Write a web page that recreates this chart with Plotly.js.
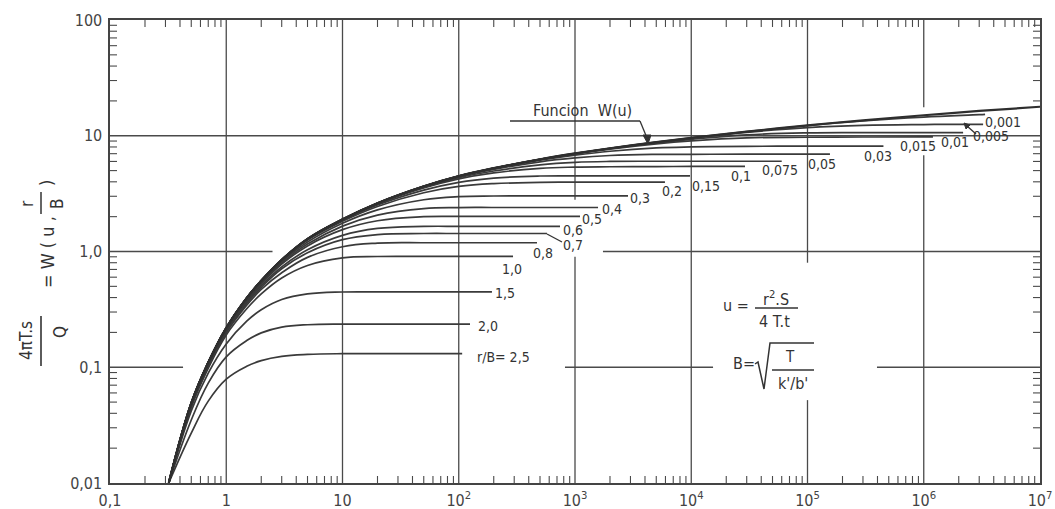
<!DOCTYPE html>
<html><head><meta charset="utf-8">
<script src="https://cdn.plot.ly/plotly-3.0.1.min.js"></script>
<style>html,body{margin:0;padding:0;background:#fff}</style>
</head><body>
<div id="chart" style="width:1055px;height:509px"></div>
<script>
// ---- data: x = 1/u, y = W(u, r/B) ----
const X = [0.32, 0.5, 0.7, 1, 1.5, 2, 3, 5, 10, 20, 50, 100, 200, 500, 1e3, 2e3, 5e3, 1e4, 3e4, 1e5, 3e5, 1e6, 3e6, 1e7];
const W_u = [0.01, 0.049, 0.11, 0.219, 0.397, 0.56, 0.848, 1.284, 1.896, 2.616, 3.657, 4.482, 5.246, 6.26, 7.03, 7.80, 8.81, 9.58, 10.85, 12.3, 13.6, 15.03, 16.38, 17.8];

const rB_labels = ['2,5','2,0','1,5','1,0','0,8','0,7','0,6','0,5','0,4','0,3','0,2','0,15','0,1','0,075','0,05','0,03','0,015','0,01','0,005','0,001'];
const curveEnd = [107, 125, 193, 293, 471, 574, 743, 1104, 1578, 2857, 5940, 9750, 2.9e4, 6.0e4, 1.56e5, 4.5e5, 1.2e6, 2.18e6, 3.24e6, 3.37e6];

const W_rB_2_5   = [0.01, 0.027, 0.051, 0.079, 0.102, 0.114, 0.124, 0.129, 0.131, 0.131, 0.131, 0.131, 0.131];
const W_rB_2_0   = [0.01, 0.035, 0.073, 0.123, 0.17, 0.198, 0.222, 0.233, 0.236, 0.236, 0.236, 0.236, 0.236];
const W_rB_1_5   = [0.01, 0.042, 0.089, 0.159, 0.25, 0.314, 0.385, 0.43, 0.447, 0.448, 0.448, 0.448, 0.448];
const W_rB_1_0   = [0.01, 0.045, 0.098, 0.19, 0.32, 0.43, 0.59, 0.757, 0.88, 0.905, 0.906, 0.906, 0.906, 0.906];
const W_rB_0_8   = [0.01, 0.046, 0.10, 0.198, 0.343, 0.47, 0.655, 0.89, 1.10, 1.18, 1.19, 1.19, 1.19, 1.19];
const W_rB_0_7   = [0.01, 0.047, 0.103, 0.202, 0.355, 0.49, 0.71, 0.975, 1.265, 1.40, 1.43, 1.43, 1.43, 1.43, 1.43];
const W_rB_0_6   = [0.01, 0.047, 0.105, 0.206, 0.365, 0.506, 0.736, 1.034, 1.377, 1.582, 1.648, 1.65, 1.65, 1.65, 1.65];
const W_rB_0_5   = [0.01, 0.048, 0.107, 0.21, 0.374, 0.521, 0.777, 1.118, 1.544, 1.844, 1.998, 2.01, 2.01, 2.01, 2.01, 2.01];
const W_rB_0_4   = [0.01, 0.048, 0.108, 0.214, 0.382, 0.535, 0.796, 1.159, 1.657, 2.063, 2.349, 2.396, 2.40, 2.40, 2.40, 2.40];
const W_rB_0_3   = [0.01, 0.0485, 0.109, 0.216, 0.389, 0.545, 0.817, 1.206, 1.753, 2.287, 2.801, 2.981, 3.017, 3.02, 3.02, 3.02, 3.02];
const W_rB_0_2   = [0.01, 0.049, 0.11, 0.218, 0.395, 0.553, 0.834, 1.254, 1.823, 2.45, 3.218, 3.648, 3.86, 3.95, 3.98, 3.98, 3.98, 3.98];
const W_rB_0_15  = [0.01, 0.049, 0.11, 0.219, 0.396, 0.556, 0.84, 1.267, 1.854, 2.521, 3.392, 3.962, 4.31, 4.489, 4.507, 4.51, 4.51, 4.51];
const W_rB_0_1   = [0.01, 0.049, 0.11, 0.219, 0.397, 0.558, 0.845, 1.276, 1.877, 2.573, 3.537, 4.235, 4.77, 5.225, 5.36, 5.40, 5.42, 5.43, 5.43];
const W_rB_0_075 = [0.01, 0.049, 0.11, 0.219, 0.397, 0.559, 0.846, 1.28, 1.885, 2.59, 3.588, 4.339, 4.958, 5.606, 5.891, 6.0, 6.02, 6.02, 6.02, 6.02];
const W_rB_0_05  = [0.01, 0.049, 0.11, 0.219, 0.397, 0.56, 0.847, 1.282, 1.89, 2.60, 3.625, 4.419, 5.116, 5.955, 6.434, 6.751, 6.902, 6.913, 6.93, 6.93, 6.93];
const W_rB_0_03  = [0.01, 0.049, 0.11, 0.219, 0.397, 0.56, 0.848, 1.283, 1.894, 2.61, 3.65, 4.458, 5.197, 6.139, 6.791, 7.35, 7.846, 8.005, 8.10, 8.13, 8.13, 8.13];
const W_rB_0_015 = [0.01, 0.049, 0.11, 0.219, 0.397, 0.56, 0.848, 1.284, 1.896, 2.614, 3.653, 4.476, 5.236, 6.25, 6.966, 7.676, 8.518, 9.034, 9.583, 9.71, 9.754, 9.77, 9.77];
const W_rB_0_01  = [0.01, 0.049, 0.11, 0.219, 0.397, 0.56, 0.848, 1.284, 1.896, 2.615, 3.655, 4.479, 5.24, 6.25, 7.0, 7.741, 8.678, 9.322, 10.194, 10.595, 10.65, 10.66, 10.66];
const W_rB_0_005 = [0.01, 0.049, 0.11, 0.219, 0.397, 0.56, 0.848, 1.284, 1.896, 2.616, 3.657, 4.481, 5.245, 6.258, 7.026, 7.79, 8.78, 9.514, 10.70, 11.75, 12.3, 12.5, 12.55, 12.55];
const W_rB_0_001 = [0.01, 0.049, 0.11, 0.219, 0.397, 0.56, 0.848, 1.284, 1.896, 2.616, 3.657, 4.482, 5.246, 6.26, 7.03, 7.80, 8.81, 9.58, 10.84, 12.25, 13.45, 14.5, 15.2, 15.3];

const X_TICKS = [0.1, 1, 10, 100, 1e3, 1e4, 1e5, 1e6, 1e7];
const X_TICKTEXT = ['0,1', '1', '10', '10<sup>2</sup>', '10<sup>3</sup>', '10<sup>4</sup>', '10<sup>5</sup>', '10<sup>6</sup>', '10<sup>7</sup>'];
const Y_TICKS = [0.01, 0.1, 1, 10, 100];
const Y_TICKTEXT = ['0,01', '0,1', '1,0', '10', '100'];

// ---- drawing ----
const INK = '#333';
const FONT = '"DejaVu Sans Condensed", "Liberation Sans Narrow", "Liberation Sans", "DejaVu Sans", sans-serif';
const leaky = [W_rB_2_5, W_rB_2_0, W_rB_1_5, W_rB_1_0, W_rB_0_8, W_rB_0_7, W_rB_0_6, W_rB_0_5, W_rB_0_4, W_rB_0_3,
               W_rB_0_2, W_rB_0_15, W_rB_0_1, W_rB_0_075, W_rB_0_05, W_rB_0_03, W_rB_0_015, W_rB_0_01, W_rB_0_005, W_rB_0_001];

const traces = leaky.map((ys, i) => ({
  type: 'scatter', mode: 'lines', name: 'r/B=' + rB_labels[i],
  x: X.filter(v => v < curveEnd[i]).concat([curveEnd[i]]),
  y: ys,
  line: {color: '#3a3a3a', width: 1.7, shape: 'spline', smoothing: 1.15},
  hoverinfo: 'skip'
}));
traces.push({type: 'scatter', mode: 'lines', name: 'W(u)', x: X, y: W_u,
  line: {color: '#2e2e2e', width: 2.2, shape: 'spline', smoothing: 1.15}, hoverinfo: 'skip'});

// geometry helpers (plot area: 110..1040 x 20..483 px)
const PX = p => (p - 110) / 930;
const PY = p => (483 - p) / 463;
const lx = v => (Math.log10(v) + 1) / 8;
const ly = v => (Math.log10(v) + 2) / 4;

const shapes = [];
const GRID = '#4a4a4a';
// vertical grid segments [x, [[y0,y1],...]]
const vGrid = [[1, [[0.01, 100]]], [10, [[0.01, 100]]], [100, [[0.01, 100]]], [1e3, [[0.01, 0.9], [2.8, 100]]],
               [1e4, [[0.01, 100]]], [1e5, [[0.01, 0.052], [0.8, 100]]], [1e6, [[0.01, 6.8], [17.6, 100]]]];
const hGrid = [[10, [[0.1, 1e7]]], [1, [[0.1, 2.5], [1740, 1e7]]], [0.1, [[0.1, 0.425], [820, 1.54e4], [3.96e5, 1e7]]]];
vGrid.forEach(([xv, segs]) => segs.forEach(([a, b]) => shapes.push({type: 'line', xref: 'paper', yref: 'paper', layer: 'below',
  x0: lx(xv), x1: lx(xv), y0: ly(a), y1: ly(b), line: {color: GRID, width: 1.3}})));
hGrid.forEach(([yv, segs]) => segs.forEach(([a, b]) => shapes.push({type: 'line', xref: 'paper', yref: 'paper', layer: 'below',
  y0: ly(yv), y1: ly(yv), x0: lx(a), x1: lx(b), line: {color: GRID, width: 1.3}})));
// minor ticks inside on all four sides
const TL = 7;
for (let d = -1; d < 7; d++) for (let k = 2; k <= 9; k++) {
  const p = lx(k * Math.pow(10, d));
  shapes.push({type: 'line', xref: 'paper', yref: 'paper', x0: p, x1: p, y0: 0, y1: TL / 463, line: {color: GRID, width: 1.1}});
  shapes.push({type: 'line', xref: 'paper', yref: 'paper', x0: p, x1: p, y0: 1, y1: 1 - TL / 463, line: {color: GRID, width: 1.1}});
}
for (let d = -2; d < 2; d++) for (let k = 2; k <= 9; k++) {
  const p = ly(k * Math.pow(10, d));
  shapes.push({type: 'line', xref: 'paper', yref: 'paper', y0: p, y1: p, x0: 0, x1: TL / 930, line: {color: GRID, width: 1.1}});
  shapes.push({type: 'line', xref: 'paper', yref: 'paper', y0: p, y1: p, x0: 1, x1: 1 - TL / 930, line: {color: GRID, width: 1.1}});
}
function seg(x0, y0, x1, y1, w) {
  return {type: 'line', xref: 'paper', yref: 'paper', x0: PX(x0), y0: PY(y0), x1: PX(x1), y1: PY(y1), line: {color: INK, width: w || 1.3}};
}
function tri(pts) {
  return {type: 'path', xref: 'paper', yref: 'paper', fillcolor: INK, line: {color: INK, width: 1},
    path: 'M' + pts.map(p => PX(p[0]) + ',' + PY(p[1])).join(' L') + ' Z'};
}
// leaders
shapes.push(seg(510, 121, 640, 121), seg(640, 121, 647, 138), tri([[643, 135], [651, 135], [648, 144]]));
shapes.push(seg(547, 234, 562, 242));
shapes.push(seg(976, 134, 967, 126), tri([[964, 123], [970, 125], [966, 129]]));
// formula bars and radical
shapes.push(seg(755, 308, 798, 308, 1.4));
shapes.push({type: 'path', xref: 'paper', yref: 'paper', line: {color: INK, width: 1.5},
  path: 'M' + PX(755) + ',' + PY(364) + ' L' + PX(758) + ',' + PY(362) + ' L' + PX(764) + ',' + PY(389) + ' L' + PX(770) + ',' + PY(343) + ' L' + PX(814) + ',' + PY(343)});
shapes.push(seg(772, 370, 814, 370, 1.4));
// y-title fraction bars
shapes.push(seg(41, 316, 41, 366, 1.6));
shapes.push(seg(41, 192, 41, 214, 1.5));

function txt(t, px, py, size, extra) {
  return Object.assign({text: t, xref: 'paper', yref: 'paper', x: PX(px), y: PY(py), xanchor: 'center', yanchor: 'middle',
    showarrow: false, font: {family: FONT, size: size, color: INK}}, extra || {});
}
const labelPos = [[503, 357], [488, 326], [505, 293], [512, 269], [543, 253], [573, 245], [573, 230], [592, 219], [612, 209], [640, 198],
                  [672, 191], [706, 186], [741, 176], [780, 170], [822, 164], [878, 156], [918, 146], [955, 142], [991, 136], [1003, 122]];
const annotations = rB_labels.map((l, i) => txt(i === 0 ? 'r/B= ' + l : l, labelPos[i][0], labelPos[i][1], 14));
annotations.push(txt('Funcion  W(u)', 582, 110, 16));
// formulas
annotations.push(txt('u =', 736, 305, 16));
annotations.push(txt('r<sup>2</sup>.S', 776, 298, 16));
annotations.push(txt('4 T.t', 774, 321, 16));
annotations.push(txt('B=', 744, 363, 16));
annotations.push(txt('T', 790, 357, 15));
annotations.push(txt("k'/b'", 793, 383, 16));
// y axis title pieces (rotated)
const R = {textangle: -90};
annotations.push(txt('4πT.s', 26, 341, 17, R));
annotations.push(txt('Q', 60, 332, 17, R));
annotations.push(txt('= W ( u ,', 47, 252, 18, R));
annotations.push(txt('r', 27, 204, 17, R));
annotations.push(txt('B', 57, 204, 17, R));
annotations.push(txt(')', 47, 183, 18, R));

const axisCommon = {type: 'log', showgrid: false, zeroline: false, showline: true, linecolor: '#444', linewidth: 1.6,
  mirror: true, ticks: '', tickfont: {family: FONT, size: 16, color: '#444'}};
const layout = {
  width: 1055, height: 509, margin: {l: 110, r: 15, t: 20, b: 26},
  paper_bgcolor: '#fff', plot_bgcolor: '#fff', showlegend: false,
  xaxis: Object.assign({}, axisCommon, {range: [-1, 7], tickvals: X_TICKS, ticktext: X_TICKTEXT, ticklabelstandoff: 2}),
  yaxis: Object.assign({}, axisCommon, {range: [-2, 2], tickvals: Y_TICKS, ticktext: Y_TICKTEXT, ticklabelstandoff: 3}),
  shapes: shapes, annotations: annotations
};
Plotly.newPlot('chart', traces, layout, {staticPlot: true, displayModeBar: false});
</script>
</body></html>
